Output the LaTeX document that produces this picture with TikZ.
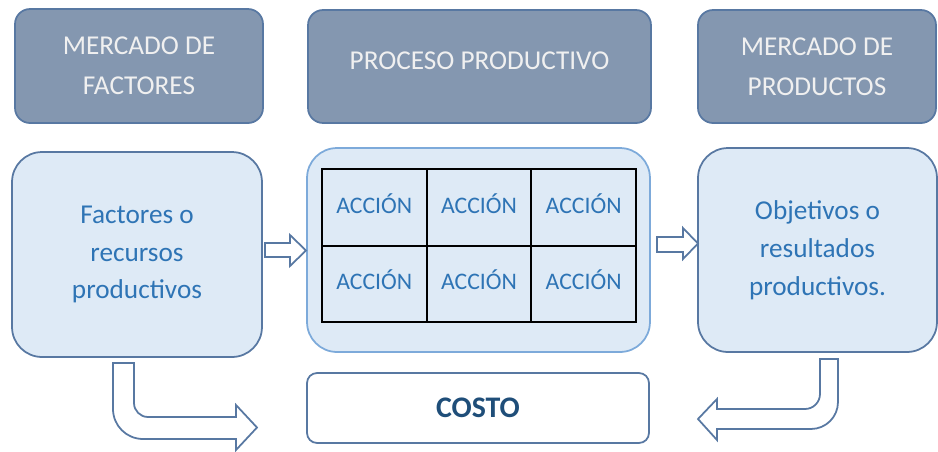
\documentclass[tikz,border=0pt]{standalone}
\usepackage{fontspec}
\setmainfont{Carlito}
\usepackage{tikz}

\definecolor{cabecera}{RGB}{132,151,176}
\definecolor{bordeosc}{RGB}{88,120,162}
\definecolor{bordecl}{RGB}{125,170,218}
\definecolor{fondo}{RGB}{222,234,246}
\definecolor{textoazul}{RGB}{46,116,181}
\definecolor{textocosto}{RGB}{31,78,121}

\tikzset{
  cabeza/.style={draw=bordeosc, fill=cabecera, line width=1pt, rounded corners=0.3cm,
    text=white!94!black, align=center, inner sep=0pt,
    font=\fontsize{15.5}{22.5}\selectfont},
  caja/.style={draw=bordeosc, fill=fondo, line width=1pt, rounded corners=0.6cm,
    text=textoazul, align=center, inner sep=0pt,
    font=\fontsize{15.5}{21.5}\selectfont},
  celda/.style={draw=black, line width=1.1pt, minimum width=2.093cm, minimum height=1.53cm,
    inner sep=0pt, text depth=0.16cm, text=textoazul, font=\fontsize{13.5}{16}\selectfont},
  flecha/.style={draw=bordeosc, fill=white, line width=1pt, line join=miter}
}

\begin{document}
\begin{tikzpicture}[x=0.02cm,y=-0.02cm]
        \useasboundingbox (0,0) rectangle (938,451);

        % cabeceras
        \node[cabeza, minimum width=4.96cm, minimum height=2.28cm] (mfactores) at (139,66) {MERCADO DE\\FACTORES};
        \node[cabeza, text depth=0.24cm, minimum width=6.86cm, minimum height=2.26cm] (pproductivo) at (479.5,66.5) {PROCESO PRODUCTIVO};
        \node[cabeza, minimum width=4.76cm, minimum height=2.26cm] (mproductos) at (817,66.5) {MERCADO DE\\PRODUCTOS};

        % cajas
        \node[caja, minimum width=5.0cm, minimum height=4.1cm] (factores) at (137,254.5) {Factores o\\recursos\\productivos};
        \node[caja, draw=bordecl, minimum width=6.86cm, minimum height=4.08cm] (proceso) at (478.5,250) {};
        \node[caja, minimum width=4.78cm, minimum height=4.08cm] (objetivos) at (817.5,250) {Objetivos o\\resultados\\productivos.};

        \foreach \i in {0,1,2}
            \foreach \j in {0,1}
                \node[celda] (accion\i\j) at (374.3+104.67*\i, 207.3+76.5*\j) {ACCIÓN};

        \node[draw=bordeosc, fill=white, line width=1pt, rounded corners=0.2cm,
              minimum width=6.84cm, minimum height=1.4cm, text=textocosto,
              font=\bfseries\fontsize{17}{20}\selectfont] (costo) at (478,408) {COSTO};

        % flechas
        \draw[flecha] (265,243) -- (290,243) -- (290,235) -- (306,250.5) -- (290,266) -- (290,257) -- (265,257) -- cycle;
        \draw[flecha] (657,237) -- (683,237) -- (683,228) -- (698,243.5) -- (683,259) -- (683,252) -- (657,252) -- cycle;

        \draw[flecha] (113,363) -- (113,409) arc[start angle=180, end angle=270, radius=0.6cm]
            -- (236,439) -- (236,450) -- (257,427.5) -- (236,405) -- (236,417) -- (148,417)
            arc[start angle=270, end angle=180, radius=0.28cm] -- (134,363) -- cycle;
        \draw[flecha] (838,359) -- (838,402) arc[start angle=0, end angle=-90, radius=0.54cm]
            -- (717,429) -- (717,440) -- (698,419) -- (717,399) -- (717,409) -- (805,409)
            arc[start angle=270, end angle=360, radius=0.3cm] -- (820,359) -- cycle;
\end{tikzpicture}
\end{document}
